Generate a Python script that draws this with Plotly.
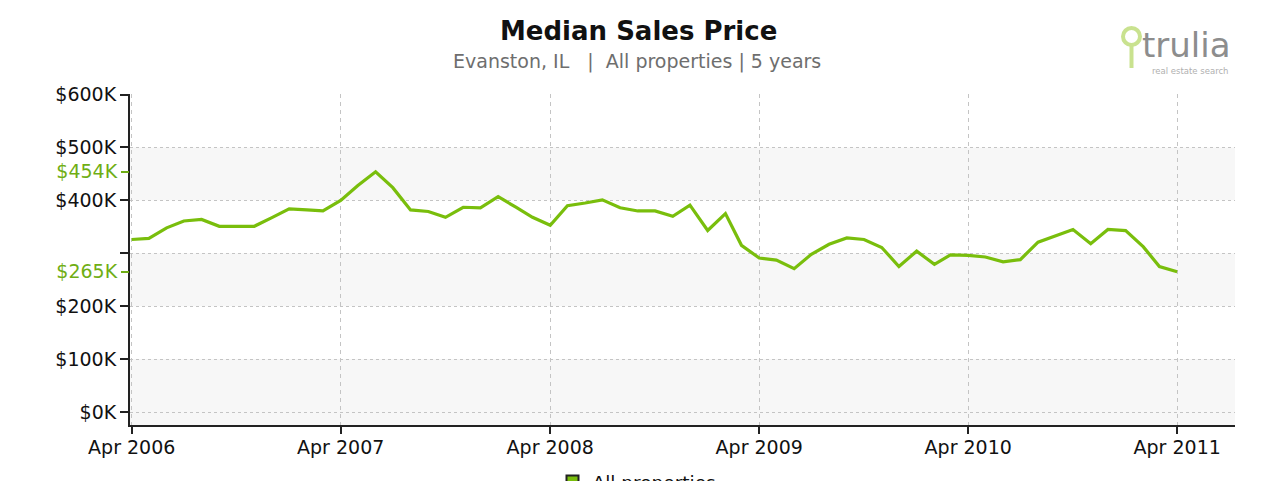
import plotly.graph_objects as go

# ---------------- data ----------------
months = [
    "2006-04", "2006-05", "2006-06", "2006-07", "2006-08", "2006-09", "2006-10", "2006-11", "2006-12",
    "2007-01", "2007-02", "2007-03", "2007-04", "2007-05", "2007-06", "2007-07", "2007-08", "2007-09",
    "2007-10", "2007-11", "2007-12", "2008-01", "2008-02", "2008-03", "2008-04", "2008-05", "2008-06",
    "2008-07", "2008-08", "2008-09", "2008-10", "2008-11", "2008-12", "2009-01", "2009-02", "2009-03",
    "2009-04", "2009-05", "2009-06", "2009-07", "2009-08", "2009-09", "2009-10", "2009-11", "2009-12",
    "2010-01", "2010-02", "2010-03", "2010-04", "2010-05", "2010-06", "2010-07", "2010-08", "2010-09",
    "2010-10", "2010-11", "2010-12", "2011-01", "2011-02", "2011-03", "2011-04",
]
median_price = [
    326000, 328000, 348000, 361000, 364000, 351000, 351000, 351000, 367000,
    384000, 382000, 380000, 400000, 428000, 454000, 424000, 382000, 379000,
    368000, 387000, 386000, 407000, 387000, 368000, 353000, 390000, 395000,
    401000, 386000, 380000, 380000, 370000, 391000, 343000, 375000, 315000,
    291000, 287000, 271000, 298000, 317000, 329000, 326000, 311000, 275000,
    304000, 279000, 297000, 296000, 293000, 284000, 288000, 321000, 334000,
    345000, 318000, 345000, 343000, 312000, 275000, 265000,
]
series_name = "All properties"

y_tickvals = [0, 100000, 200000, 300000, 400000, 500000, 600000]
y_ticktext = ["$0K", "$100K", "$200K", "", "$400K", "$500K", "$600K"]
hl_tickvals = [265000, 454000]
hl_ticktext = ["$265K", "$454K"]
x_tickvals = ["2006-04-01", "2007-04-01", "2008-04-01", "2009-04-01", "2010-04-01", "2011-04-01"]
x_ticktext = ["Apr 2006", "Apr 2007", "Apr 2008", "Apr 2009", "Apr 2010", "Apr 2011"]

title_text = "Median Sales Price"
subtitle_text = "Evanston, IL\u00a0\u00a0\u00a0|\u00a0\u00a0All properties | 5 years"

# ---------------- styling / layout ----------------
OFF = 8                      # default page body margin
PAGE_W, PAGE_H = 1268, 481
W, H = PAGE_W - OFF, PAGE_H - OFF
# plot area in page pixels
P_LEFT, P_RIGHT, P_TOP, P_BOTTOM = 130, 1235, 94, 425
ML, MR = P_LEFT - OFF, PAGE_W - P_RIGHT
MT, MB = P_TOP - OFF, PAGE_H - P_BOTTOM
PW, PH = P_RIGHT - P_LEFT, P_BOTTOM - P_TOP
YMIN, YMAX = -24500, 601000

GREEN = "#79be0c"
LABEL_GREEN = "#6fae14"
FONT = "DejaVu Sans"


def px(x):
    return (x - P_LEFT) / PW


def py(y):
    return 1 - (y - P_TOP) / PH


x_dates = [m + "-01" for m in months]

fig = go.Figure()
fig.add_trace(go.Scatter(
    x=x_dates, y=median_price, mode="lines",
    line=dict(color=GREEN, width=3.2), showlegend=False, hoverinfo="skip",
))
fig.add_trace(go.Scatter(
    x=[None], y=[None], mode="markers", name=series_name,
    marker=dict(symbol="square", size=14, color=GREEN, line=dict(color="#222", width=1.5)),
    showlegend=True,
))
# invisible trace so that the highlight axis renders
fig.add_trace(go.Scatter(x=[x_dates[0]], y=[None], yaxis="y2", showlegend=False,
                         mode="lines", hoverinfo="skip"))

shapes = []
for y0, y1 in [(YMIN, 100000), (200000, 300000), (400000, 500000)]:
    shapes.append(dict(type="rect", xref="paper", x0=0, x1=1, yref="y", y0=y0, y1=y1,
                       fillcolor="#f7f7f7", line=dict(width=0), layer="below"))
# trulia logo pin
shapes.append(dict(type="circle", xref="paper", yref="paper",
                   x0=px(1123), x1=px(1140), y0=py(45), y1=py(28),
                   line=dict(color="#c9e28f", width=4)))
shapes.append(dict(type="line", xref="paper", yref="paper",
                   x0=px(1131.5), x1=px(1131.5), y0=py(46), y1=py(68),
                   line=dict(color="#c9e28f", width=4)))

annotations = [
    dict(text="<b>" + title_text + "</b>", x=px(638), y=py(31), xref="paper", yref="paper",
         showarrow=False, font=dict(family=FONT, size=26, color="#111"), xanchor="center", yanchor="middle"),
    dict(text=subtitle_text, x=px(637), y=py(61), xref="paper", yref="paper",
         showarrow=False, font=dict(family=FONT, size=19, color="#6e6e6e"), xanchor="center", yanchor="middle"),
    dict(text="trulia", x=px(1140), y=py(45), xref="paper", yref="paper",
         showarrow=False, font=dict(family=FONT, size=34, color="#8d8d8d"), xanchor="left", yanchor="middle"),
    dict(text="real estate search", x=px(1190), y=py(71), xref="paper", yref="paper",
         showarrow=False, font=dict(family=FONT, size=8.5, color="#b0b0b0"), xanchor="center", yanchor="middle"),
]

fig.update_layout(
    width=W, height=H,
    margin=dict(l=ML, r=MR, t=MT, b=MB, pad=0, autoexpand=False),
    paper_bgcolor="white", plot_bgcolor="white",
    font=dict(family=FONT, size=19, color="#111"),
    shapes=shapes, annotations=annotations,
    legend=dict(orientation="h", x=px(637), xanchor="center", y=py(463), yanchor="top",
                font=dict(family=FONT, size=18.5, color="#111"), bgcolor="rgba(0,0,0,0)",
                itemsizing="constant"),
    xaxis=dict(
        type="date", range=["2006-03-29", "2011-07-11"],
        tickvals=x_tickvals, ticktext=x_ticktext,
        showline=True, linecolor="#222", linewidth=2,
        ticks="outside", ticklen=7, tickwidth=1.5, tickcolor="#222",
        ticklabelstandoff=-3,
        showgrid=True, gridcolor="#c4c4c4", griddash="4px,4px", gridwidth=1,
        zeroline=False, tickfont=dict(family=FONT, size=19, color="#111"),
    ),
    yaxis=dict(
        range=[YMIN, YMAX], tickvals=y_tickvals, ticktext=y_ticktext,
        showline=True, linecolor="#222", linewidth=2,
        ticks="outside", ticklen=8, tickwidth=2, tickcolor="#222",
        showgrid=True, gridcolor="#c4c4c4", griddash="3px,3px", gridwidth=1,
        zeroline=False, tickfont=dict(family=FONT, size=19, color="#111"),
    ),
    yaxis2=dict(
        range=[YMIN, YMAX], overlaying="y", side="left", anchor="x",
        tickvals=hl_tickvals, ticktext=hl_ticktext,
        ticks="outside", ticklen=8, tickwidth=2, tickcolor=LABEL_GREEN,
        showgrid=False, showline=False, zeroline=False,
        tickfont=dict(family=FONT, size=19, color=LABEL_GREEN),
    ),
)

fig.write_html("out.html")
